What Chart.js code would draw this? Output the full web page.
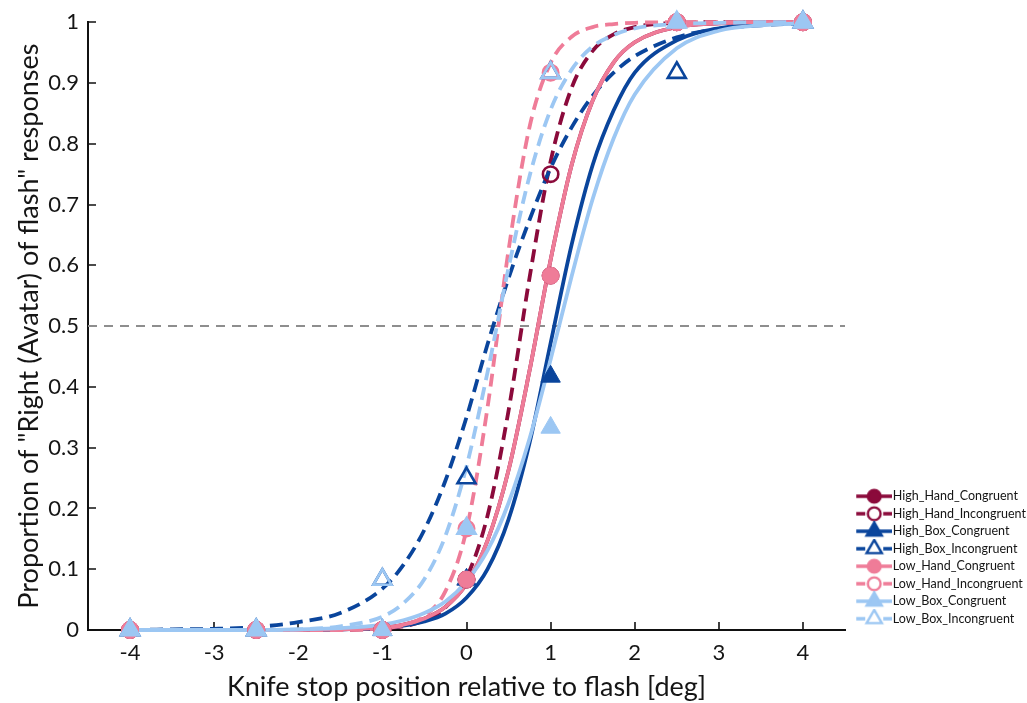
<!DOCTYPE html>
<html>
<head>
<meta charset="utf-8">
<script src="https://cdn.jsdelivr.net/npm/chart.js@4.4.1/dist/chart.umd.min.js"></script>
<style>
  html, body { margin: 0; padding: 0; background: #ffffff; }
  canvas { display: block; }
</style>
</head>
<body>
<canvas id="c" width="1027" height="703"></canvas>
<script>
// ---------------- data ----------------
const xTickValues = [-4, -3, -2, -1, 0, 1, 2, 3, 4];
const xTickLabels = ['-4', '-3', '-2', '-1', '0', '1', '2', '3', '4'];
const yTickValues = [0, 0.1, 0.2, 0.3, 0.4, 0.5, 0.6, 0.7, 0.8, 0.9, 1];
const yTickLabels = ['0', '0.1', '0.2', '0.3', '0.4', '0.5', '0.6', '0.7', '0.8', '0.9', '1'];

const seriesNames = ['High_Hand_Congruent', 'High_Hand_Incongruent', 'High_Box_Congruent', 'High_Box_Incongruent',
                     'Low_Hand_Congruent', 'Low_Hand_Incongruent', 'Low_Box_Congruent', 'Low_Box_Incongruent'];

// observed proportions at the tested knife stop positions
const pointX = [-4, -2.5, -1, 0, 1, 2.5, 4];
const highHandCongruentPts   = [0, 0, 0, 0.083, 0.583, 1, 1];
const highHandIncongruentPts = [0, 0, 0, 0.083, 0.75, 1, 1];
const highBoxCongruentPts    = [0, 0, 0, 0.083, 0.417, 1, 1];
const highBoxIncongruentPts  = [0, 0, 0.083, 0.25, 0.917, 0.917, 1];
const lowHandCongruentPts    = [0, 0, 0, 0.083, 0.583, 1, 1];
const lowHandIncongruentPts  = [0, 0, 0, 0.167, 0.917, 1, 1];
const lowBoxCongruentPts     = [0, 0, 0, 0.167, 0.333, 1, 1];
const lowBoxIncongruentPts   = [0, 0, 0.083, 0.167, 0.917, 1, 1];

// fitted psychometric curves
const curveX = [-4, -3.5, -3, -2.5, -2, -1.5, -1, -0.75, -0.5, -0.25, 0, 0.25, 0.5, 0.75, 1, 1.25, 1.5, 1.75, 2, 2.5, 3, 3.5, 4];
const highHandCongruentFit   = [0, 0, 0, 0, 0, 0.001, 0.004, 0.009, 0.019, 0.038, 0.076, 0.147, 0.263, 0.427, 0.609, 0.765, 0.871, 0.934, 0.967, 0.992, 0.998, 1, 1];
const highHandIncongruentFit = [0, 0, 0, 0, 0, 0, 0.003, 0.006, 0.016, 0.037, 0.086, 0.188, 0.361, 0.58, 0.771, 0.892, 0.953, 0.98, 0.992, 0.999, 1, 1, 1];
const highBoxCongruentFit    = [0, 0, 0, 0, 0, 0.001, 0.003, 0.007, 0.014, 0.027, 0.053, 0.1, 0.182, 0.308, 0.472, 0.634, 0.765, 0.855, 0.917, 0.97, 0.99, 0.996, 0.999];
const highBoxIncongruentFit  = [0, 0.001, 0.002, 0.005, 0.013, 0.028, 0.068, 0.107, 0.165, 0.246, 0.35, 0.47, 0.579, 0.675, 0.76, 0.827, 0.879, 0.917, 0.944, 0.975, 0.989, 0.995, 0.998];
const lowHandCongruentFit    = [0, 0, 0, 0, 0, 0.001, 0.004, 0.009, 0.019, 0.038, 0.076, 0.147, 0.263, 0.427, 0.609, 0.765, 0.871, 0.934, 0.967, 0.992, 0.998, 1, 1];
const lowHandIncongruentFit  = [0, 0, 0, 0, 0, 0, 0.003, 0.008, 0.023, 0.064, 0.165, 0.366, 0.625, 0.828, 0.933, 0.976, 0.992, 0.997, 0.999, 1, 1, 1, 1];
const lowBoxCongruentFit     = [0, 0, 0, 0, 0.001, 0.003, 0.009, 0.016, 0.028, 0.047, 0.08, 0.131, 0.209, 0.315, 0.445, 0.582, 0.709, 0.809, 0.881, 0.957, 0.986, 0.995, 0.998];
const lowBoxIncongruentFit   = [0, 0, 0, 0, 0.001, 0.006, 0.022, 0.044, 0.084, 0.155, 0.269, 0.424, 0.596, 0.747, 0.856, 0.922, 0.96, 0.979, 0.99, 0.997, 0.999, 1, 1];

// chance level reference
const refX = [-4.5, 4.5];
const refY = [0.5, 0.5];

// ---------------- styles ----------------
const pointSets = [highHandCongruentPts, highHandIncongruentPts, highBoxCongruentPts, highBoxIncongruentPts,
                   lowHandCongruentPts, lowHandIncongruentPts, lowBoxCongruentPts, lowBoxIncongruentPts];
const fitSets = [highHandCongruentFit, highHandIncongruentFit, highBoxCongruentFit, highBoxIncongruentFit,
                 lowHandCongruentFit, lowHandIncongruentFit, lowBoxCongruentFit, lowBoxIncongruentFit];
const seriesColors = ['#8b0a3b', '#8b0a3b', '#0a459c', '#0a459c', '#ef7c98', '#ef7c98', '#9cc7f3', '#9cc7f3'];
const seriesDashed = [false, true, false, true, false, true, false, true];
const seriesMarker = ['circle', 'circle', 'triangle', 'triangle', 'circle', 'circle', 'triangle', 'triangle'];
const seriesFilled = [true, false, true, false, true, false, true, false];

const FONT = 'Lato, "Liberation Sans", Arial, sans-serif';
const TEXT = '#151515';

function makeIcon(i) {
  const c = document.createElement('canvas');
  c.width = 48; c.height = 20;
  const g = c.getContext('2d');
  const col = seriesColors[i];
  const x0 = 12, x1 = 48, cx = 30, cy = 10;
  g.strokeStyle = col; g.lineWidth = 3.3; g.lineCap = 'butt';
  g.beginPath();
  if (seriesDashed[i]) {
    g.moveTo(x0, cy); g.lineTo(x0 + 9, cy);
    g.moveTo(x1 - 9, cy); g.lineTo(x1, cy);
  } else {
    g.moveTo(x0, cy); g.lineTo(x1, cy);
  }
  g.stroke();
  g.beginPath();
  if (seriesMarker[i] === 'circle') {
    g.arc(cx, cy, 6.4, 0, Math.PI * 2);
  } else {
    const r = 8.8;
    g.moveTo(cx, cy - r);
    g.lineTo(cx + r * Math.sin(Math.PI * 2 / 3), cy - r * Math.cos(Math.PI * 2 / 3));
    g.lineTo(cx + r * Math.sin(Math.PI * 4 / 3), cy - r * Math.cos(Math.PI * 4 / 3));
    g.closePath();
  }
  g.fillStyle = seriesFilled[i] ? col : '#ffffff';
  g.fill();
  g.lineWidth = 2.4;
  g.stroke();
  return c;
}
const icons = seriesNames.map((_, i) => makeIcon(i));

const datasets = [];
datasets.push({
  label: 'chance',
  data: refX.map((x, k) => ({ x, y: refY[k] })),
  showLine: true, borderColor: '#8e8e8e', borderWidth: 2, borderDash: [9, 7],
  pointRadius: 0, order: 300, clip: false
});
seriesNames.forEach((name, i) => {
  datasets.push({
    label: name + ' fit',
    data: curveX.map((x, k) => ({ x, y: fitSets[i][k] })),
    showLine: true, borderColor: seriesColors[i], borderWidth: 3.8,
    borderDash: seriesDashed[i] ? [13, 7] : [],
    cubicInterpolationMode: 'monotone',
    pointRadius: 0, pointHoverRadius: 0, order: 200 - i, clip: false
  });
});
seriesNames.forEach((name, i) => {
  const tri = seriesMarker[i] === 'triangle';
  const filled = seriesFilled[i];
  datasets.push({
    label: name,
    data: pointX.map((x, k) => ({ x, y: pointSets[i][k] })),
    showLine: false,
    pointStyle: seriesMarker[i],
    pointRadius: tri ? (filled ? 11.2 : 10.4) : (filled ? 8.5 : 7.7),
    pointBorderWidth: filled ? 1 : 2.6,
    pointBackgroundColor: filled ? seriesColors[i] : 'rgba(255,255,255,0)',
    pointBorderColor: seriesColors[i],
    borderColor: seriesColors[i],
    backgroundColor: seriesColors[i],
    order: 100 - i, clip: false
  });
});

const innerTicks = {
  id: 'innerTicks',
  beforeDatasetsDraw(chart) {
    const { ctx, chartArea, scales } = chart;
    ctx.save();
    ctx.strokeStyle = '#111';
    ctx.lineWidth = 1.6;
    ctx.beginPath();
    scales.x.ticks.forEach(t => {
      const px = Math.round(scales.x.getPixelForValue(t.value));
      ctx.moveTo(px, chartArea.bottom);
      ctx.lineTo(px, chartArea.bottom - 8);
    });
    scales.y.ticks.forEach(t => {
      const py = Math.round(scales.y.getPixelForValue(t.value));
      ctx.moveTo(chartArea.left, py);
      ctx.lineTo(chartArea.left + 8, py);
    });
    ctx.stroke();
    ctx.restore();
  }
};

new Chart(document.getElementById('c'), {
  type: 'scatter',
  data: { datasets },
  plugins: [innerTicks],
  options: {
    responsive: false,
    animation: false,
    devicePixelRatio: 1,
    events: [],
    layout: { padding: { top: 22, right: 0, bottom: 0, left: 0 } },
    plugins: {
      tooltip: { enabled: false },
      legend: {
        position: 'right',
        align: 'end',
        fullSize: false,
        maxWidth: 182,
        labels: {
          usePointStyle: true,
          pointStyleWidth: 36.5,
          padding: 5,
          color: TEXT,
          font: { family: FONT, size: 12.5 },
          generateLabels: () => seriesNames.map((name, i) => ({
            text: name,
            pointStyle: icons[i],
            datasetIndex: 9 + i,
            fillStyle: seriesColors[i],
            strokeStyle: seriesColors[i],
            lineWidth: 0,
            fontColor: TEXT,
            hidden: false
          }))
        }
      }
    },
    scales: {
      x: {
        type: 'linear',
        min: -4.5, max: 4.5,
        afterBuildTicks: s => { s.ticks = xTickValues.map(v => ({ value: v })); },
        afterFit: s => { s.height = 73; },
        ticks: {
          padding: 10,
          color: TEXT,
          font: { family: FONT, size: 22 },
          callback: (v) => { const k = xTickValues.indexOf(v); return k >= 0 ? xTickLabels[k] : ''; }
        },
        grid: { display: true, drawOnChartArea: false, drawTicks: false },
        border: { display: true, color: '#111', width: 2 },
        title: {
          display: true,
          text: 'Knife stop position relative to flash [deg]',
          color: TEXT,
          font: { family: FONT, size: 27 },
          padding: { top: 0, bottom: 0 }
        }
      },
      y: {
        type: 'linear',
        min: 0, max: 1,
        afterBuildTicks: s => { s.ticks = yTickValues.map(v => ({ value: v })); },
        afterFit: s => { s.width = 88; },
        ticks: {
          padding: 9,
          color: TEXT,
          font: { family: FONT, size: 22 },
          callback: (v) => { const k = yTickValues.findIndex(t => Math.abs(t - v) < 1e-9); return k >= 0 ? yTickLabels[k] : ''; }
        },
        grid: { display: true, drawOnChartArea: false, drawTicks: false },
        border: { display: true, color: '#111', width: 2 },
        title: {
          display: true,
          text: 'Proportion of "Right (Avatar) of flash" responses',
          color: TEXT,
          font: { family: FONT, size: 27 },
          padding: { top: 13, bottom: 0 }
        }
      }
    }
  }
});
</script>
</body>
</html>
